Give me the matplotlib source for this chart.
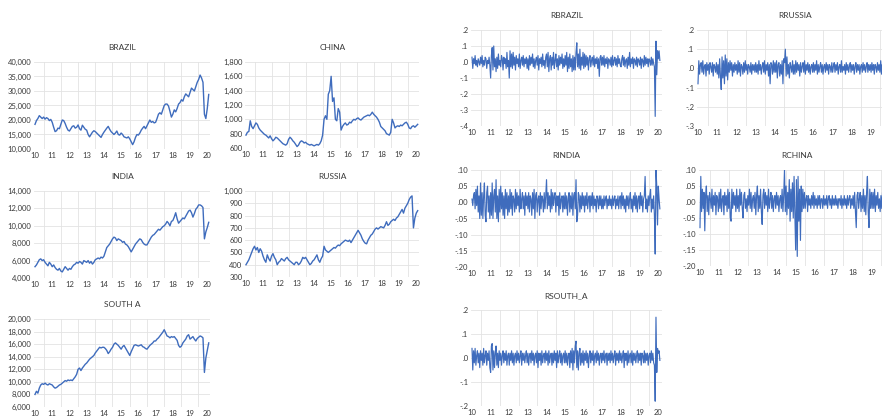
import numpy as np
import matplotlib
matplotlib.use('Agg')
import matplotlib.pyplot as plt
from matplotlib.ticker import FuncFormatter, MultipleLocator

plt.rcParams['font.family'] = ['Lato', 'DejaVu Sans']

# Price levels, monthly, in thousands (BRAZIL, INDIA, SOUTH A) or index points
brazil = [18.5, 19.8, 20.5, 21.5, 21.0, 20.5, 21.0, 20.3, 20.8, 20.5, 19.8, 20.2,
          19.2, 17.5, 16.0, 16.3, 17.2, 17.0, 18.5, 20.0, 19.8, 18.8, 17.5, 16.5,
          16.2, 17.0, 17.8, 18.0, 17.2, 17.5, 18.3, 17.0, 16.5, 18.2, 17.5, 16.8,
          16.5, 15.0, 14.2, 15.0, 15.8, 16.3, 16.0, 15.5, 15.0, 14.5, 14.0, 15.0,
          15.8, 16.5, 17.2, 17.8, 16.8, 16.0, 15.5, 15.0, 15.5, 16.2, 15.0, 14.8,
          15.5, 15.0, 14.2, 14.0, 13.8, 14.2, 13.5, 12.5, 11.5, 12.5, 14.0, 15.0,
          14.8, 15.5, 16.5, 17.2, 17.8, 17.0, 18.0, 19.0, 20.0, 19.2, 19.5, 19.0,
          19.2, 20.5, 22.0, 22.5, 22.0, 23.5, 25.0, 25.5, 25.5, 24.8, 23.0, 21.0,
          22.0, 23.5, 22.8, 24.0, 25.5, 26.0, 27.0, 26.5, 28.0, 29.0, 28.5, 28.0,
          29.5, 31.0, 30.5, 30.0, 31.5, 33.0, 34.0, 35.5, 34.5, 33.0, 22.0, 20.5,
          24.0, 28.8]

china = [780, 820, 830, 980, 900, 870, 910, 950, 930, 880, 850, 830,
         810, 790, 780, 760, 740, 770, 730, 700, 720, 750, 740, 720,
         700, 680, 660, 650, 640, 660, 720, 750, 730, 700, 680, 650,
         620, 640, 680, 700, 690, 670, 680, 660, 650, 640, 650, 640,
         630, 640, 650, 640, 660, 700, 780, 1000, 1050, 1000, 1350, 1400,
         1600, 1250, 1300, 1000, 980, 1150, 1100, 850, 900, 930, 950, 920,
         930, 960, 950, 980, 1000, 990, 1010, 1020, 1000, 990, 1010, 1030,
         1040, 1050, 1060, 1050, 1070, 1100, 1070, 1050, 1030, 1000, 960, 900,
         880, 860, 840, 800, 790, 780, 820, 1000, 950, 880, 900, 910,
         900, 920, 910, 930, 950, 960, 930, 880, 870, 900, 910, 890,
         910, 930]

india = [5.3, 5.5, 5.8, 6.1, 6.2, 6.0, 6.1, 5.8, 5.6, 5.4, 5.8, 5.6,
         5.3, 5.5, 5.2, 5.0, 4.9, 5.1, 4.8, 4.7, 5.0, 5.3, 5.1, 4.9,
         5.1, 5.0, 5.3, 5.5, 5.6, 5.8, 5.7, 5.9, 5.8, 5.6, 6.0, 5.9,
         5.8, 6.0, 5.7, 5.9, 5.6, 5.8, 6.1, 6.2, 6.3, 6.2, 6.4, 6.3,
         6.5, 7.0, 7.5, 7.7, 7.9, 8.2, 8.5, 8.7, 8.6, 8.3, 8.5, 8.4,
         8.3, 8.1, 8.2, 7.9, 7.8, 7.6, 7.3, 7.0, 7.3, 7.6, 7.9, 8.1,
         8.3, 8.5, 8.4, 8.1, 7.9, 7.8, 7.8, 8.1, 8.4, 8.7, 8.9, 9.0,
         9.2, 9.4, 9.6, 9.5, 9.7, 9.9, 10.0, 10.2, 10.5, 10.3, 10.0, 10.5,
         10.6, 11.0, 11.5, 10.8, 10.3, 10.5, 10.7, 10.9, 10.8, 11.1, 11.4, 11.7,
         11.8, 11.5, 11.0, 11.4, 11.9, 12.1, 12.4, 12.4, 12.3, 12.1, 8.5, 9.3,
         9.8, 10.4]

russia = [400, 420, 440, 470, 500, 530, 550, 520, 540, 500, 530, 510,
          470, 440, 420, 480, 450, 430, 470, 490, 460, 440, 400, 420,
          430, 450, 440, 430, 450, 460, 440, 430, 420, 410, 400, 420,
          420, 400, 410, 430, 460, 450, 460, 440, 420, 400, 410, 430,
          440, 460, 480, 440, 420, 450, 470, 550, 520, 510, 500, 510,
          520, 530, 540, 535, 550, 560, 555, 570, 580, 590, 600, 595,
          590, 600, 580, 600, 620, 640, 660, 680, 660, 640, 610, 590,
          575, 570, 600, 620, 640, 650, 670, 690, 700, 690, 700, 710,
          705, 700, 720, 750, 720, 730, 750, 760, 770, 760, 780, 790,
          810, 830, 850, 820, 860, 880, 900, 930, 950, 960, 700, 780,
          820, 840]

south_a = [8.0, 8.5, 8.2, 9.0, 9.5, 9.7, 9.6, 9.8, 9.6, 9.5, 9.7, 9.6,
           9.5, 9.2, 9.0, 9.1, 9.3, 9.5, 9.6, 9.8, 10.0, 10.2, 10.1, 10.3,
           10.2, 10.3, 10.2, 10.5, 10.8, 11.2, 12.0, 12.2, 11.8, 12.2, 12.5, 12.8,
           13.0, 13.3, 13.6, 13.8, 14.0, 14.2, 14.6, 14.9, 15.2, 15.5, 15.4, 15.5,
           15.5, 15.3, 15.0, 14.5, 14.8, 15.2, 15.5, 16.0, 16.2, 16.0, 15.8, 15.5,
           15.2, 15.6, 15.8, 15.4, 15.0, 14.6, 14.2, 14.8, 15.3, 15.8, 15.9, 15.8,
           15.7, 15.8, 15.9, 15.6, 15.5, 15.3, 15.2, 15.5, 15.8, 16.0, 16.2, 16.5,
           16.5, 16.8, 17.0, 17.3, 17.6, 17.9, 18.3, 17.8, 17.3, 17.2, 17.0, 17.2,
           17.1, 17.2, 16.9, 16.6, 15.8, 15.5, 15.7, 16.2, 16.5, 16.8, 17.3, 17.5,
           16.8, 17.0, 17.2, 16.8, 16.5, 16.9, 17.1, 17.3, 17.2, 17.0, 11.5, 13.8,
           15.0, 16.2]

# Returns, twice a month, in percent
rbrazil = [3, -4, 2, -1, 4, -2, 1, -3, 2, 0, -2, 3, -1, 4, -3, 1, -2, 3, 2, -4, 1, -1, 3, -2,
           -10, 4, 9, -5, 10, -3, 2, -6, 3, -4, 5, -2, 1, -3, 4, 2, -5, 3, -1, 2, -4, 6, -3, 1,
           -10, 7, -3, 5, -4, 6, -2, 3, -5, 4, -1, 2, -3, 5, -4, 1, 3, -2, 4, -3, 2, -1, 3, -4,
           2, -5, 4, -2, 3, -1, 5, -3, 2, -4, 1, 3, -2, 4, -5, 2, -1, 3, -3, 5, -2, 1, -4, 3,
           5, -3, 6, -6, 2, 4, -5, 3, -2, 6, -4, 1, 5, -3, 2, -5, 4, -2, 3, -1, 5, -4, 2, -3,
           4, -2, 6, -6, 3, -4, 5, -3, 2, -6, 4, -5, 3, -5, 6, 12, -3, 5, -4, 8, -5, 3, -2, 6,
           -4, 5, -3, 4, -2, 3, -5, 2, 4, -3, 1, 3, -2, 4, -3, 2, -1, 3, -4, 2, -9, 3, 4, -2,
           3, -2, 4, -3, 2, -1, 3, -4, 2, 1, -2, 3, -3, 4, -2, 1, 3, -2, 2, -3, 4, -1, 2, -2,
           -3, 2, 4, -2, 3, -3, 1, 2, -4, 3, -2, 6, -3, 2, -1, 3, -4, 2, 1, -2, 3, -3, 2, 1,
           -2, 3, -4, 2, 1, -3, 4, -2, 3, -1, 2, -3, 2, 1, -2, 3, -2, 2, -1, -3, -34, 13, -8, 7,
           2, 7, 1]

rrussia = [-8, 4, -3, 2, 3, -2, 4, -3, 1, 2, -4, 3, -1, 2, -3, 3, 1, -2, 3, -4, 2, 1, -2, 3,
           -3, 2, -5, 5, -4, -11, 6, -5, 4, -8, 7, -4, 5, -6, 3, -2, 4, -1, 3, -4, 2, -2, 3, -1,
           2, -3, 4, -2, 3, -4, 2, 1, -3, 3, -2, 4, -1, 2, -3, 2, 1, -2, 3, -3, 2, -1, 2, -2,
           3, -2, 2, -3, 4, -1, 2, -3, 1, 3, -2, 4, -3, 2, -1, 3, -4, 2, -8, 3, 2, -3, 4, -2,
           3, -2, 4, -5, 2, 3, -4, 2, -3, 4, -8, 5, 3, 10, -4, 6, -3, 2, -5, 3, 1, -2, 4, -3,
           2, -3, 4, -2, 3, -1, 2, -4, 3, -2, 1, 3, -2, 4, -3, 2, -1, 3, -2, 2, -3, 1, 2, -2,
           3, -2, 2, -1, 4, -3, 2, -2, 1, 3, -2, 2, -3, 1, 2, -2, 3, -1, 2, -3, 2, 1, -2, 3,
           -2, 1, 3, -2, 2, -1, 3, -3, 1, 2, -2, 4, -2, 1, -1, 2, -3, 3, -1, 2, -2, 1, 3, -2,
           2, -1, 2, -3, 1, 3, -2, 2, -1, 2, -3, 1, 2, -2, 3, -1, 2, -2, 1, 3, -2, 2, -1, 2,
           -2, 3, -1, 2, -3, 2, 1, -2, 3, -1, 2, -2, 4, -3, 2, -1, 3, -2, 1, -4, -22, 8, -5, 6,
           3, 4, -2]

rindia = [1, -1, 2, 3, -2, 4, -1, 5, -3, 2, -5, 6, -4, 3, -5, 2, 6, -4, -6, 3, 5, -3, 2, -5,
          3, -4, 6, -5, 2, 4, -3, 7, -5, 2, -6, 4, -3, 5, -2, 3, -4, 2, -5, 4, -2, 3, -4, 2,
          -3, 4, -2, 3, -4, 2, 1, -3, 4, -2, 3, -1, 2, -3, 4, -2, 1, 3, -2, 2, -4, 3, -1, 2,
          -2, 3, -3, 2, 1, -4, 3, -2, 4, -5, 2, 3, -3, 1, 2, -4, 3, -2, 2, 1, -3, 3, -2, 2,
          7, -2, 3, -1, 2, -3, 4, -2, 3, -1, 2, 3, -3, 2, -1, 2, -4, 3, -2, 1, 2, -3, 2, -2,
          3, -2, 2, -4, 1, 3, -3, 2, -2, 3, -4, 2, 3, -2, 7, -6, -4, 3, 2, -3, 2, -2, 3, -1,
          2, -3, 2, -1, 3, -2, 1, 2, -3, 2, -1, 3, -2, 2, -1, 1, -3, 2, 1, -2, 2, -1, 2, -2,
          1, -2, 2, -1, 1, 2, -2, 1, -1, 2, -1, 1, -2, 2, -1, 1, 2, -2, 1, -1, 2, -2, 1, 2,
          -2, 3, -1, 2, -2, 1, -3, 2, -1, 2, -2, 1, 3, -2, 1, -3, 2, -1, 3, -2, 2, -3, 1, 2,
          -2, 3, -1, 2, -3, 1, 2, 8, -2, 1, -3, 2, -1, 2, 4, -3, 1, -2, 2, -4, -16, 10, 5, -7,
          5, 1, -2]

rchina = [-8, 8, -3, 4, -2, 3, -9, 2, 5, -3, 2, -4, 3, 1, -2, 4, -3, 2, -1, 3, -4, 2, 1, -3,
          3, -2, 4, -3, 1, 2, -4, 3, -1, 2, -3, 4, -2, 3, -5, -6, 4, -2, 3, -1, 2, -3, 4, -2,
          2, -3, 4, -1, 3, -2, -5, 2, 3, -2, 1, -3, 2, -1, 4, -2, 3, -3, 1, 2, -2, 3, -4, 2,
          5, -3, 2, -2, 4, -3, -7, 2, 4, -2, 3, -1, 2, -3, 4, -2, 1, 3, -2, 2, -3, 1, 2, -2,
          3, -1, 2, -3, 1, 2, -2, 4, -3, 2, 10, -3, 5, -4, 3, -2, 7, -6, 4, -3, 6, -5, 8, -4,
          -15, 7, -17, 8, -6, 4, -12, 5, -3, 4, -2, 3, -2, 1, 2, -3, 2, -1, 1, -2, 2, -1, 3, -2,
          2, -1, 1, -2, 2, -1, 2, -2, 1, 1, -2, 2, -1, 1, -1, 2, -2, 1, 2, -1, 1, -2, 2, -1,
          1, -1, 2, -1, 1, -2, 1, 1, -1, 2, -2, 1, -1, 2, -1, 1, -2, 2, -1, 1, 2, -2, 1, -1,
          2, -2, 3, -3, -8, 2, 3, -2, 1, 3, -3, 2, -2, 4, -3, 2, -4, 3, 8, -3, -8, 4, -2, 3,
          -2, 3, -2, 4, -3, 2, -1, 3, -2, 1, -3, 2, -2, 3, -1, 2, -2, 1, 3, -2, -10, 5, -3, 4,
          2, -1, 3]

rsouth_a = [4, -5, 3, -2, 4, -3, 1, 3, -2, 2, -4, 3, -1, 2, -3, 4, -2, 1, 3, -3, 2, -1, 3, -4,
            -6, 5, 6, -5, 3, -4, 2, 5, -3, 2, -4, 3, -1, 2, -3, 1, 3, -2, 2, -1, 3, -3, 1, 2,
            -3, 2, -1, 3, -2, 2, -3, 1, 2, -2, 3, -1, 2, -2, 1, 3, -3, 2, -1, 2, -2, 1, 3, -2,
            2, -3, 1, 2, -2, 3, -1, 2, -3, 1, 2, -2, 3, -4, 2, -1, 2, -3, 3, -2, 1, 2, -2, 3,
            -1, 2, -3, 3, -2, 1, 2, -3, 2, -2, 3, -1, 2, -4, 3, -2, 1, 3, -2, 2, -3, 1, 2, -2,
            3, -2, 2, -3, 1, 2, -4, 3, -2, 4, -5, 3, -2, 5, 7, -4, 3, -5, 2, 4, -3, 2, -2, 3,
            -3, 2, -1, 3, -2, 2, -4, 1, 3, -2, 2, -1, 3, -3, 1, 2, -2, 3, -1, 2, -3, 1, 2, -2,
            2, -1, 3, -2, 1, 2, -3, 2, -1, 2, -2, 3, -1, 2, -2, 1, 3, -3, 2, -1, 2, -2, 3, -1,
            2, -2, 1, 3, -4, 2, -1, 2, -3, 3, -2, 1, 2, -2, 3, -3, 2, -1, 2, -2, 1, 3, -2, 2,
            -1, 2, -3, 2, 1, -2, 3, -2, 2, -1, 2, -3, 1, 2, -2, 3, -1, 2, -2, -3, -18, 17, -6, 4,
            2, 3, -1]

brazil = [v * 1000 for v in brazil]
india = [v * 1000 for v in india]
south_a = [v * 1000 for v in south_a]
rbrazil = [v / 100 for v in rbrazil]
rrussia = [v / 100 for v in rrussia]
rindia = [v / 100 for v in rindia]
rchina = [v / 100 for v in rchina]
rsouth_a = [v / 100 for v in rsouth_a]

years = list(range(2010, 2021))
year_labels = [str(y)[2:] for y in years]

W, H = 882, 419
XMIN, XMAX = 2009.95, 2020.2
BLUE = '#3f6cbd'
TXT = '#3a3a3a'

fig = plt.figure(figsize=(W / 100, H / 100), dpi=100)


def price_fmt(v, pos):
    return f'{v:,.0f}'


def ret_fmt(dec):
    def f(v, pos):
        s = f'{abs(v):.{dec}f}' if abs(v) < 1e-9 else f'{v:.{dec}f}'
        return s.replace('0.', '.', 1)
    return f


def panel(title, values, ylim, step, fmt, x10, x20, ytop, ybot, lw, last_label=True):
    ax = fig.add_axes([0, 0, 1, 1])
    s = (x20 - x10) / 10.0
    left = x10 + (XMIN - 2010) * s
    right = x10 + (XMAX - 2010) * s
    ax.set_position([left / W, 1 - ybot / H, (right - left) / W, (ybot - ytop) / H])
    t = np.linspace(2010, 2020.1, len(values))
    ax.plot(t, values, color=BLUE, linewidth=lw)
    ax.set_xlim(XMIN, XMAX)
    ax.set_ylim(*ylim)
    ax.yaxis.set_major_locator(MultipleLocator(step))
    ax.yaxis.set_major_formatter(FuncFormatter(fmt))
    # the right-hand panels are cut by the picture edge, so their "20" is not shown
    ticks = years if last_label else years[:-1]
    ax.set_xticks(ticks)
    ax.set_xticklabels(year_labels[:len(ticks)])
    ax.set_xticks([y + 0.5 for y in years[:-1]], minor=True)
    ax.grid(axis='y', which='major', color='#e3e3e3', linewidth=0.6)
    ax.grid(axis='x', which='minor', color='#e3e3e3', linewidth=0.6)
    ax.set_axisbelow(True)
    for sp in ax.spines.values():
        sp.set_visible(False)
    ax.tick_params(which='both', length=0, labelsize=5.5, colors=TXT, pad=2)
    ax.set_title(title, fontsize=6, color=TXT, pad=8.5)
    return ax


panel('BRAZIL', brazil, (10000, 40000), 5000, price_fmt, 35, 207, 62, 149, 1.0)
panel('CHINA', china, (600, 1800), 200, price_fmt, 246, 416, 62, 148, 1.0)
panel('INDIA', india, (4000, 14000), 2000, price_fmt, 35, 207, 191, 278, 1.0)
panel('RUSSIA', russia, (300, 1000), 100, price_fmt, 246, 416, 191, 277, 1.0)
panel('SOUTH A', south_a, (6000, 20000), 2000, price_fmt, 35, 207, 319, 407, 1.0)

panel('RBRAZIL', rbrazil, (-0.4, 0.2), 0.1, ret_fmt(1), 472, 658, 30, 126, 0.85)
panel('RRUSSIA', rrussia, (-0.3, 0.2), 0.1, ret_fmt(1), 698, 890, 30, 126, 0.85, False)
panel('RINDIA', rindia, (-0.2, 0.1), 0.05, ret_fmt(2), 472, 658, 170, 267, 0.85)
panel('RCHINA', rchina, (-0.2, 0.1), 0.05, ret_fmt(2), 700, 891, 170, 266, 0.85, False)
panel('RSOUTH_A', rsouth_a, (-0.2, 0.2), 0.1, ret_fmt(1), 472, 658, 310, 406, 0.85)

fig.savefig('out.png', dpi=100)
